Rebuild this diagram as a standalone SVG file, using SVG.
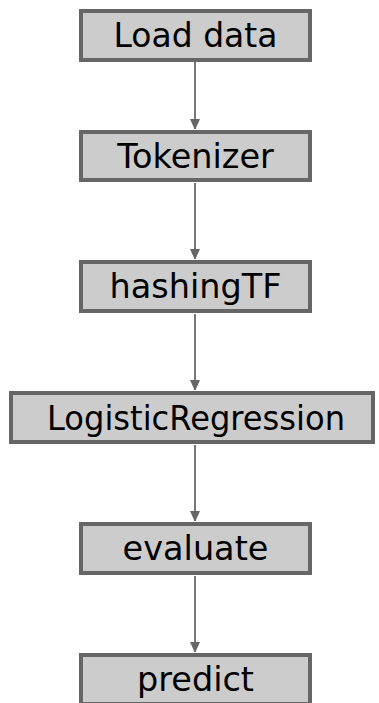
<svg xmlns="http://www.w3.org/2000/svg" width="379" height="703" viewBox="0 0 379 703">
<style>
.box{fill:#cccccc;stroke:#666666;stroke-width:4}
.lbl{font-family:"DejaVu Sans",Verdana,sans-serif;font-size:33.5px;fill:#000000;text-anchor:middle}
.edge{stroke:#777777;stroke-width:2;fill:none}
</style>
<defs>
<marker id="arr" markerWidth="10" markerHeight="11" refX="10" refY="5.5" orient="auto" markerUnits="userSpaceOnUse">
<path d="M0,0.5 L11,5.5 L0,10.5 z" fill="#666666"/>
</marker>
</defs>
<rect width="379" height="703" fill="#ffffff"/>
<g id="connectors">
<line class="edge" x1="195" y1="62" x2="195" y2="129" marker-end="url(#arr)"/>
<line class="edge" x1="195" y1="183" x2="195" y2="259" marker-end="url(#arr)"/>
<line class="edge" x1="195" y1="314" x2="195" y2="390" marker-end="url(#arr)"/>
<line class="edge" x1="195" y1="445" x2="195" y2="521" marker-end="url(#arr)"/>
<line class="edge" x1="195" y1="576" x2="195" y2="652" marker-end="url(#arr)"/>
</g>
<g id="load">
<rect class="box" x="81" y="11" width="229" height="49"/>
<text class="lbl" x="195.5" y="47" textLength="164" lengthAdjust="spacingAndGlyphs">Load data</text>
</g>
<g id="tokenizer">
<rect class="box" x="81" y="132" width="229" height="48"/>
<text class="lbl" x="195.5" y="168">Tokenizer</text>
</g>
<g id="hashingtf">
<rect class="box" x="81" y="262" width="229" height="49"/>
<text class="lbl" x="195.5" y="298">hashingTF</text>
</g>
<g id="logreg">
<rect class="box" x="11" y="393" width="362" height="49"/>
<text class="lbl" x="196" y="430" textLength="298" lengthAdjust="spacingAndGlyphs">LogisticRegression</text>
</g>
<g id="evaluate">
<rect class="box" x="81" y="524" width="229" height="49"/>
<text class="lbl" x="195.5" y="560">evaluate</text>
</g>
<g id="predict">
<rect class="box" x="81" y="655" width="229" height="49"/>
<text class="lbl" x="195.5" y="691">predict</text>
</g>
</svg>
